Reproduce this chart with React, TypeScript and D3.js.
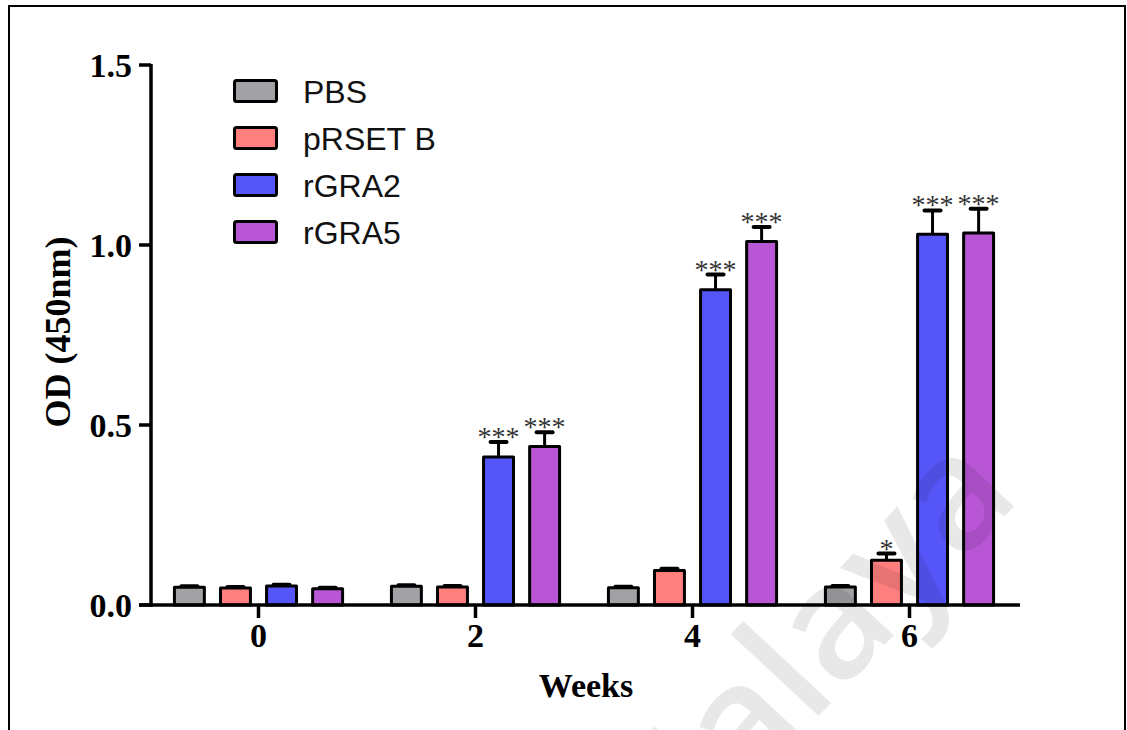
import { scaleBand, scaleLinear } from "d3";

const weeks = ["0", "2", "4", "6"];
const seriesNames = ["PBS", "pRSET B", "rGRA2", "rGRA5"];
const seriesColors = ["#A2A2A6", "#FF7F7F", "#5656F8", "#B856D6"];

// mean OD per week, one array per group
const pbsMean = [0.049, 0.052, 0.048, 0.05];
const prsetMean = [0.047, 0.05, 0.096, 0.124];
const gra2Mean = [0.053, 0.411, 0.876, 1.03];
const gra5Mean = [0.045, 0.44, 1.01, 1.033];

// SD (upper error only)
const pbsErr = [0.003, 0.003, 0.003, 0.003];
const prsetErr = [0.003, 0.003, 0.005, 0.019];
const gra2Err = [0.003, 0.042, 0.042, 0.066];
const gra5Err = [0.003, 0.04, 0.04, 0.068];

// significance marks
const pbsSig = ["", "", "", ""];
const prsetSig = ["", "", "", "*"];
const gra2Sig = ["", "***", "***", "***"];
const gra5Sig = ["", "***", "***", "***"];

const yTicks = [0, 0.5, 1.0, 1.5];

const means = [pbsMean, prsetMean, gra2Mean, gra5Mean];
const errs = [pbsErr, prsetErr, gra2Err, gra5Err];
const sigs = [pbsSig, prsetSig, gra2Sig, gra5Sig];

const W = 1127;
const H = 730;
const serif = "'Liberation Serif', 'Times New Roman', serif";
const sans = "'Liberation Sans', Arial, sans-serif";

export default function App() {
  const x0 = scaleBand<string>().domain(weeks).range([150, 1018]);
  const x1 = scaleBand<string>()
    .domain(seriesNames)
    .range([0, x0.bandwidth()])
    .paddingInner(0.35)
    .paddingOuter(0.53);
  const y = scaleLinear().domain([0, 1.5]).range([605, 65]);

  const bw = x1.bandwidth();

  return (
    <svg
      width={W}
      height={H}
      style={{ position: "absolute", left: 0, top: 0, background: "#fff" }}
    >
      {/* frame */}
      <rect x={9} y={6} width={1116} height={760} fill="none" stroke="#000" strokeWidth={2} />

      {/* bars */}
      {weeks.map((wk, wi) => (
        <g key={wk} transform={`translate(${x0(wk)},0)`}>
          {seriesNames.map((s, si) => {
            const v = means[si][wi];
            const e = errs[si][wi];
            const bx = x1(s)!;
            const cx = bx + bw / 2;
            const top = y(v);
            const cap = y(v + e);
            return (
              <g key={s}>
                <line x1={cx} x2={cx} y1={top} y2={cap} stroke="#000" strokeWidth={3} />
                <line x1={cx - 8} x2={cx + 8} y1={cap} y2={cap} stroke="#000" strokeWidth={4} strokeLinecap="round" />
                <rect
                  x={bx}
                  y={top}
                  width={bw}
                  height={y(0) - top}
                  fill={seriesColors[si]}
                  stroke="#000"
                  strokeWidth={3}
                  strokeLinejoin="round"
                />
                {sigs[si][wi] && (
                  <text
                    x={cx}
                    y={cap + 4}
                    textAnchor="middle"
                    fontFamily={serif}
                    fontSize={28}
                    fill="#333"
                  >
                    {sigs[si][wi]}
                  </text>
                )}
              </g>
            );
          })}
        </g>
      ))}

      {/* y axis */}
      <line x1={151} x2={151} y1={y(1.5) - 1} y2={y(0) + 2} stroke="#000" strokeWidth={3.5} />
      {yTicks.map((t) => (
        <g key={t}>
          <line x1={139} x2={151} y1={y(t)} y2={y(t)} stroke="#000" strokeWidth={3.5} />
          <text
            x={132}
            y={y(t) + 12}
            textAnchor="end"
            fontFamily={serif}
            fontWeight="bold"
            fontSize={34}
            fill="#000"
          >
            {t.toFixed(1)}
          </text>
        </g>
      ))}

      {/* x axis */}
      <line x1={139} x2={1020} y1={y(0)} y2={y(0)} stroke="#000" strokeWidth={3.5} />
      {weeks.map((wk) => {
        const cx = x0(wk)! + x0.bandwidth() / 2;
        return (
          <g key={wk}>
            <line x1={cx} x2={cx} y1={y(0)} y2={y(0) + 13} stroke="#000" strokeWidth={3.5} />
            <text x={cx} y={647} textAnchor="middle" fontFamily={serif} fontWeight="bold" fontSize={34} fill="#000">
              {wk}
            </text>
          </g>
        );
      })}

      {/* axis titles */}
      <text x={586} y={697} textAnchor="middle" fontFamily={serif} fontWeight="bold" fontSize={34} fill="#000">
        Weeks
      </text>
      <text
        transform="translate(70,332) rotate(-90)"
        textAnchor="middle"
        fontFamily={serif}
        fontWeight="bold"
        fontSize={36}
        fill="#000"
      >
        OD (450nm)
      </text>

      {/* legend */}
      {seriesNames.map((s, i) => {
        const cy = 91 + i * 47;
        return (
          <g key={s}>
            <rect x={234.5} y={cy - 10.5} width={42} height={21} rx={2} fill={seriesColors[i]} stroke="#000" strokeWidth={3} />
            <text x={303} y={cy + 11.5} fontFamily={sans} fontSize={32} fill="#111">
              {s}
            </text>
          </g>
        );
      })}

      {/* watermark */}
      <text
        transform="translate(648,899) rotate(-47)"
        fontFamily="'Open Sans', sans-serif"
        fontWeight={600}
        fontSize={158}
        fill="#000"
        fillOpacity={0.09}
      >
        Malaya
      </text>
    </svg>
  );
}
